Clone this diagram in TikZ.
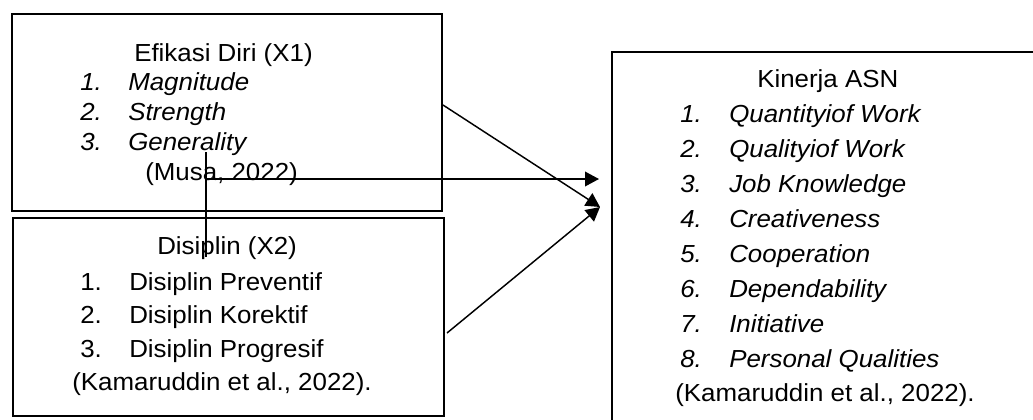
\documentclass[tikz,border=0pt]{standalone}
\usepackage{fontspec}
\setmainfont[FakeStretch=1.05]{Liberation Sans}
\usetikzlibrary{arrows.meta}
\begin{document}
\begin{tikzpicture}[x=0.75pt,y=-0.75pt,
  box/.style={draw,line width=1.5pt,inner sep=0pt,anchor=north west},
  txt/.style={anchor=base west,inner sep=0pt,font=\fontsize{18.5}{22}\selectfont},
  itx/.style={txt,font=\fontsize{18.5}{22}\selectfont\itshape},
  conn/.style={line width=1.1pt},
  tip/.style={-{Triangle[length=10.5pt,width=11pt]}}]
\useasboundingbox (0,0) rectangle (1033,419);
\clip (0,0) rectangle (1033,419);
% boxes
\node[box,minimum width=322.5pt,minimum height=147.75pt] (b1) at (11,13) {};
\node[box,minimum width=323.25pt,minimum height=148.5pt] (b2) at (12,217) {};
\node[box,minimum width=325.5pt,minimum height=284.25pt] (b3) at (611,51) {};
% box 1 text
\node[txt] (t10) at (134,61) {Efikasi Diri (X1)};
\node[itx] (n11) at (80,90) {1.};  \node[itx] (t11) at (128,90) {Magnitude};
\node[itx] (n12) at (80,120) {2.}; \node[itx] (t12) at (128,120) {Strength};
\node[itx] (n13) at (80,150) {3.}; \node[itx] (t13) at (128,150) {Generality};
\node[txt] (t14) at (145,180) {(Musa, 2022)};
% box 2 text
\node[txt] (t20) at (157,254) {Disiplin (X2)};
\node[txt] (n21) at (80,290) {1.}; \node[txt] (t21) at (129,290) {Disiplin Preventif};
\node[txt] (n22) at (80,323) {2.}; \node[txt] (t22) at (129,323) {Disiplin Korektif};
\node[txt] (n23) at (80,357) {3.}; \node[txt] (t23) at (129,357) {Disiplin Progresif};
\node[txt] (t24) at (72,390) {(Kamaruddin et al., 2022).};
% box 3 text
\node[txt] (t30) at (757,87) {Kinerja ASN};
\node[itx] (n31) at (680,122) {1.}; \node[itx] (t31) at (729,122) {Quantityiof Work};
\node[itx] (n32) at (680,157) {2.}; \node[itx] (t32) at (729,157) {Qualityiof Work};
\node[itx] (n33) at (680,192) {3.}; \node[itx] (t33) at (729,192) {Job Knowledge};
\node[itx] (n34) at (680,227) {4.}; \node[itx] (t34) at (729,227) {Creativeness};
\node[itx] (n35) at (680,262) {5.}; \node[itx] (t35) at (729,262) {Cooperation};
\node[itx] (n36) at (680,297) {6.}; \node[itx] (t36) at (729,297) {Dependability};
\node[itx] (n37) at (680,332) {7.}; \node[itx] (t37) at (729,332) {Initiative};
\node[itx] (n38) at (680,367) {8.}; \node[itx] (t38) at (729,367) {Personal Qualities};
\node[txt] (t39) at (675,401) {(Kamaruddin et al., 2022).};
% connectors
\coordinate (tA) at (600,207);
\coordinate (tB) at (599,179);
\coordinate (v1) at (206,152);
\coordinate (v2) at (206,257);
\coordinate (h0) at (206,179);
\draw[conn] (v1) -- (v2);
\draw[conn,tip] (h0) -- (tB);
\draw[conn,tip] ([yshift=-69pt]b1.north east) -- (tA);
\draw[conn,tip] ([yshift=-87pt,xshift=1.5pt]b2.north east) -- (tA);
\end{tikzpicture}
\end{document}
